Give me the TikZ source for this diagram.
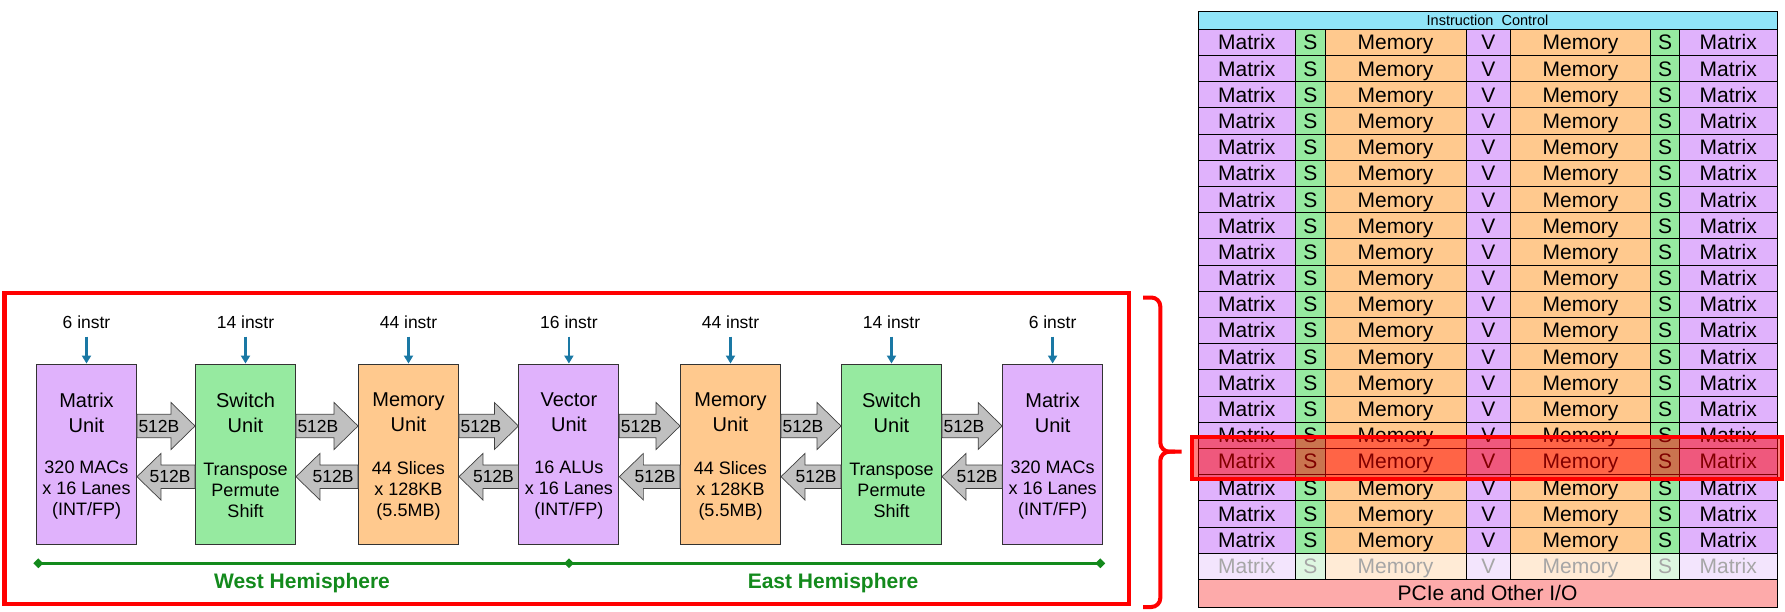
\documentclass[tikz,border=0pt]{standalone}
\usepackage{fontspec}
\setmainfont{Liberation Sans}
\usetikzlibrary{arrows.meta,calc,shapes.geometric}
\definecolor{cpurple}{HTML}{E0B2FC}
\definecolor{cgreen}{HTML}{96EAA0}
\definecolor{corange}{HTML}{FFC98E}
\definecolor{ccyan}{HTML}{90E4F8}
\definecolor{cpink}{HTML}{FDAAAA}
\definecolor{cblue}{HTML}{1A78A4}
\definecolor{cdgreen}{HTML}{138A1C}
\definecolor{cgrey}{HTML}{C0C0C0}
\definecolor{fcpurple}{HTML}{F3E5FD}
\definecolor{fcgreen}{HTML}{DEF7E1}
\definecolor{fcorange}{HTML}{FFEBD6}
\newcommand\rblk[3]{%
  \draw[blockarrow] ($(#1.east)+(0,-39.7)$) -- ($(#2.west)+(-24,-39.7)$) -- ($(#2.west)+(-24,-51.5)$) -- ($(#2.west)+(0,-28)$) -- ($(#2.west)+(-24,-4.5)$) -- ($(#2.west)+(-24,-16.3)$) -- ($(#1.east)+(0,-16.3)$) -- cycle;
  \node[bw] (#3) at ($(#1.east)+(22,-28)$) {512B};
}
\newcommand\lblk[3]{%
  \draw[blockarrow] ($(#1.east)+(0,22.7)$) -- ($(#1.east)+(24,-0.6)$) -- ($(#1.east)+(24,11)$) -- ($(#2.west)+(0,11)$) -- ($(#2.west)+(0,34.4)$) -- ($(#1.east)+(24,34.4)$) -- ($(#1.east)+(24,46)$) -- cycle;
  \node[bw] (#3) at ($(#2.west)+(-25,22.7)$) {512B};
}
\begin{document}
\begin{tikzpicture}[x=1pt,y=-1pt,
  unitbox/.style={draw=black!80, line width=0.9pt, minimum width=100pt, minimum height=180pt, inner sep=0pt},
  titletxt/.style={font=\fontsize{20}{25}\selectfont, align=center, inner sep=0pt},
  detailtxt/.style={font=\fontsize{18}{21}\selectfont, align=center, inner sep=0pt},
  instrtxt/.style={font=\fontsize{17.5}{21}\selectfont, inner sep=0pt},
  instrarrow/.style={draw=cblue, line width=2.6pt, -{Triangle[width=9pt,length=8pt]}},
  blockarrow/.style={draw=black!75, line width=0.7pt, fill=cgrey},
  bw/.style={font=\fontsize{17.5}{21}\selectfont, inner sep=0pt},
  gdiamond/.style={diamond, fill=cdgreen, minimum size=10pt, inner sep=0pt},
  hemline/.style={draw=cdgreen, line width=2.8pt},
  hemtxt/.style={font=\fontsize{21}{24}\selectfont\bfseries, text=cdgreen, inner sep=0pt},
  cell/.style={draw=black, line width=0.8pt, inner sep=0pt, font=\fontsize{21}{24}\selectfont, text height=15pt, text depth=0pt},
  redframe/.style={draw=red, line width=4.5pt},
]
\useasboundingbox (0,0) rectangle (1785,612);

% ---------- left diagram ----------
\foreach \nm/\xx/\col/\ttl/\dtl/\ins in {
  m1/86.5/cpurple/{Matrix\\Unit}/{320 MACs\\x 16 Lanes\\(INT/FP)}/6,
  s1/245.5/cgreen/{Switch\\Unit}/{Transpose\\Permute\\Shift}/14,
  e1/408.5/corange/{Memory\\Unit}/{44 Slices\\x 128KB\\(5.5MB)}/44,
  v/568.9/cpurple/{Vector\\Unit}/{16 ALUs\\x 16 Lanes\\(INT/FP)}/16,
  e2/730.5/corange/{Memory\\Unit}/{44 Slices\\x 128KB\\(5.5MB)}/44,
  s2/891.5/cgreen/{Switch\\Unit}/{Transpose\\Permute\\Shift}/14,
  m2/1052.6/cpurple/{Matrix\\Unit}/{320 MACs\\x 16 Lanes\\(INT/FP)}/6}{
  \node[unitbox, fill=\col] (\nm) at (\xx,454) {};
  \node[titletxt] (\nm-t) at ($(\nm.center)+(0,-41.5)$) {\ttl};
  \node[detailtxt] (\nm-d) at ($(\nm.center)+(0,36.5)$) {\dtl};
  \node[instrtxt] (\nm-i) at (\xx,322) {\ins\ instr};
  \draw[instrarrow] ($(\nm-i.center)+(0,14.5)$) -- (\nm.north);
}

\rblk{m1}{s1}{a1} \lblk{m1}{s1}{b1}
\rblk{s1}{e1}{a2} \lblk{s1}{e1}{b2}
\rblk{e1}{v}{a3}  \lblk{e1}{v}{b3}
\rblk{v}{e2}{a4}  \lblk{v}{e2}{b4}
\rblk{e2}{s2}{a5} \lblk{e2}{s2}{b5}
\rblk{s2}{m2}{a6} \lblk{s2}{m2}{b6}

\node[gdiamond] (hw) at (38.3,563.3) {};
\node[gdiamond] (hm) at (569,563.3) {};
\node[gdiamond] (he) at (1100.3,563.3) {};
\draw[hemline] (hw.center) -- (hm.center) -- (he.center);
\node[hemtxt] (west) at (302,583) {West Hemisphere};
\node[hemtxt] (east) at (833,583) {East Hemisphere};

\draw[redframe] (4.4,293) rectangle (1129,604);

% brace
\draw[draw=red, line width=4pt, rounded corners=9pt]
  (1143,297.5) -- (1160.3,297.5) -- (1160.3,451.7) -- (1181.7,451.7);
\draw[draw=red, line width=4pt, rounded corners=9pt]
  (1175,451.7) -- (1160.3,451.7) -- (1160.3,607) -- (1143,607);

% ---------- right grid ----------
\node[cell, fill=ccyan, minimum width=579pt, minimum height=17.6pt, font=\fontsize{14.5}{16}\selectfont, text height=10.4pt] (ic) at (1487.5,20.5) {Instruction\ \ Control};
\foreach \xa/\xb/\lab/\col [count=\k] in {
  1198/1295.5/Matrix/cpurple, 1295.5/1325/S/cgreen, 1325/1466/Memory/corange,
  1466/1510.5/V/cpurple, 1510.5/1650.5/Memory/corange, 1650.5/1679.5/S/cgreen,
  1679.5/1777/Matrix/cpurple}{
  \pgfmathsetmacro{\cw}{\xb-\xa}
  \pgfmathsetmacro{\cx}{(\xa+\xb)/2}
  \foreach \r in {0,...,19}{
    \pgfmathsetmacro{\cy}{29.3+\r*26.19+13.095}
    \node[cell, fill=\col, minimum width=\cw pt, minimum height=26.19pt] (g-\r-\k) at (\cx,\cy) {\lab};
  }
  \pgfmathsetmacro{\cy}{29.3+20*26.19+13.095}
  \node[cell, fill=f\col, text=black!35, minimum width=\cw pt, minimum height=26.19pt] (g-20-\k) at (\cx,\cy) {\lab};
}
\node[cell, fill=cpink, minimum width=579pt, minimum height=28pt] (io) at (1487.5,593.3) {PCIe and Other I/O};

% highlight
\draw[draw=red, line width=4.3pt, fill=red, fill opacity=0.5] (1192,437.2) rectangle (1782,479.2);
\end{tikzpicture}
\end{document}
